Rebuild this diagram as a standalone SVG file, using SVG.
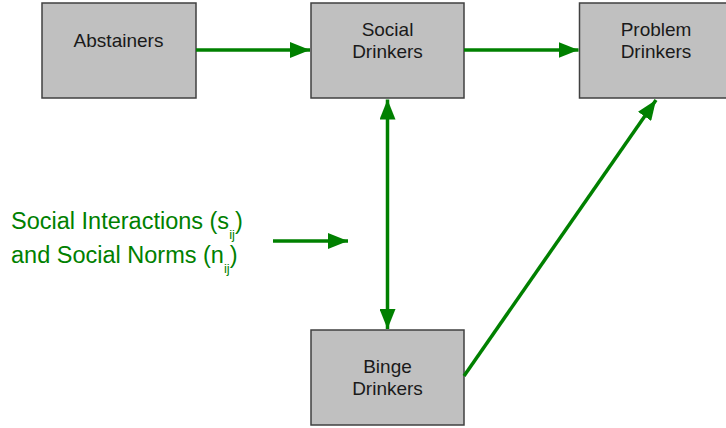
<svg xmlns="http://www.w3.org/2000/svg" width="726" height="428" viewBox="0 0 726 428">
<style>
.box{fill:#c0c0c0;stroke:#404040;stroke-width:1.5}
.lbl{font-family:"Liberation Sans",Arial,sans-serif;font-size:19px;fill:#1a1a1a;text-anchor:middle}
.con{stroke:#008000;stroke-width:3.5;fill:none}
.note{font-family:"Liberation Sans",Arial,sans-serif;font-size:23.5px;fill:#008000}
.sub{font-size:13px}
</style>
<defs>
<marker id="ah" markerUnits="userSpaceOnUse" markerWidth="20" markerHeight="16" refX="20" refY="8" orient="auto-start-reverse">
<path d="M0,0 L20,8 L0,16 Z" fill="#008000"/>
</marker>
</defs>
<rect width="726" height="428" fill="#fff"/>
<g id="abstainers">
<rect class="box" x="42" y="3" width="154" height="95"/>
<text class="lbl" x="118.5" y="47">Abstainers</text>
</g>
<g id="social">
<rect class="box" x="311" y="3" width="153" height="95"/>
<text class="lbl" x="387.5" y="35.5">Social</text>
<text class="lbl" x="387.5" y="57.5">Drinkers</text>
</g>
<g id="problem">
<rect class="box" x="579.5" y="3" width="153" height="95"/>
<text class="lbl" x="656" y="35.5">Problem</text>
<text class="lbl" x="656" y="57.5">Drinkers</text>
</g>
<g id="binge">
<rect class="box" x="311" y="330" width="153" height="95"/>
<text class="lbl" x="387.5" y="372.5">Binge</text>
<text class="lbl" x="387.5" y="394.5">Drinkers</text>
</g>
<g id="norms">
<text class="note" x="11" y="229">Social Interactions (s<tspan class="sub" dy="10">ij</tspan><tspan dy="-10">)</tspan></text>
<text class="note" x="11" y="263">and Social Norms (n<tspan class="sub" dy="10">ij</tspan><tspan dy="-10">)</tspan></text>
</g>
<g id="connectors">
<line class="con" x1="196" y1="50" x2="310" y2="50" marker-end="url(#ah)"/>
<line class="con" x1="464" y1="50" x2="578.5" y2="50" marker-end="url(#ah)"/>
<line class="con" x1="387.5" y1="99.5" x2="387.5" y2="329" marker-start="url(#ah)" marker-end="url(#ah)"/>
<line class="con" x1="464" y1="376" x2="656" y2="100" marker-end="url(#ah)"/>
<line class="con" x1="273" y1="241" x2="348" y2="241" marker-end="url(#ah)"/>
</g>
</svg>
